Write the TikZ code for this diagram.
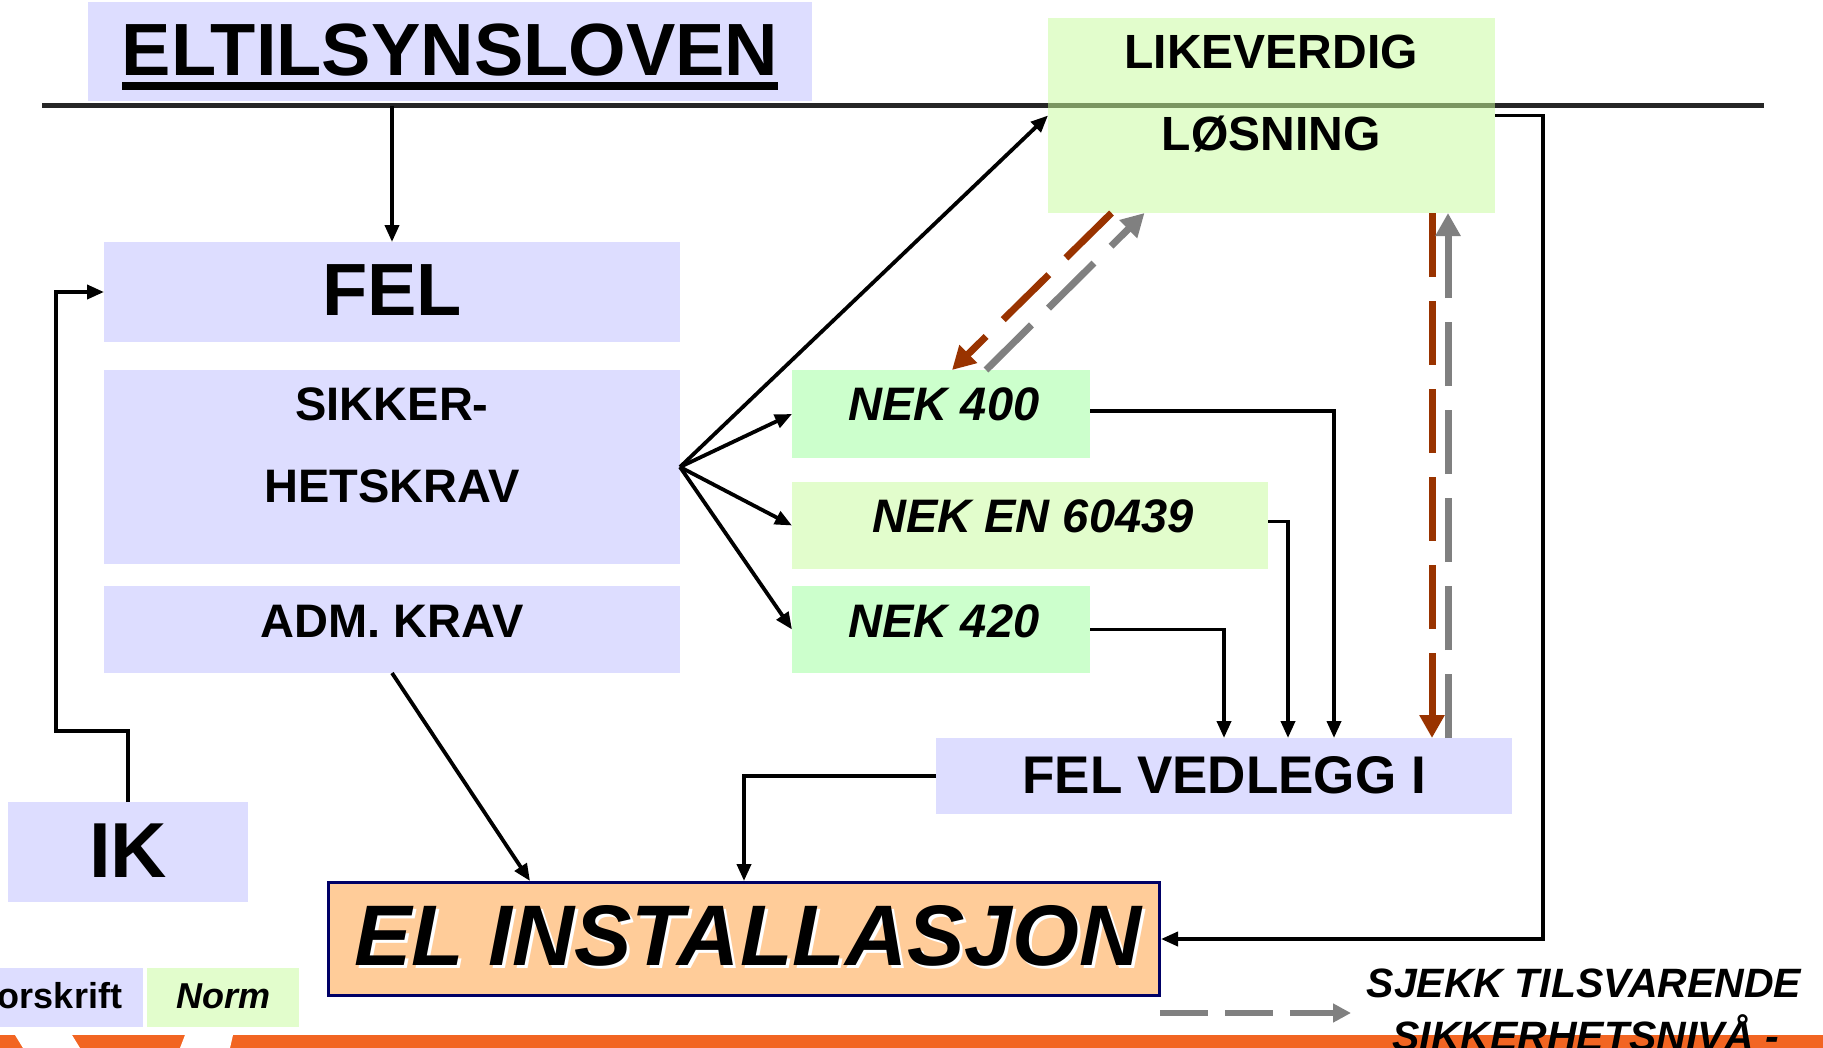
\documentclass[tikz,border=0pt]{standalone}
\usepackage{fontspec}
\setmainfont{Liberation Sans}
\usetikzlibrary{arrows.meta,calc}
\definecolor{lavc}{RGB}{221,221,255}
\definecolor{palegreen}{RGB}{226,253,204}
\definecolor{mintc}{RGB}{204,255,204}
\definecolor{peachc}{RGB}{255,204,153}
\definecolor{navyc}{RGB}{0,0,102}
\definecolor{brownc}{RGB}{153,51,0}
\definecolor{grayc}{RGB}{128,128,128}
\definecolor{bandc}{RGB}{242,101,34}
\definecolor{linec}{RGB}{38,38,38}
\definecolor{lineover}{RGB}{122,150,96}
\newcommand\fsz[1]{\fontsize{#1}{#1}\selectfont}
\begin{document}
\begin{tikzpicture}[x=1pt,y=-1pt,
  box/.style={rectangle,inner sep=0pt,outer sep=0pt,draw=none},
  lavbox/.style={box,fill=lavc},
  palebox/.style={box,fill=palegreen},
  mintbox/.style={box,fill=mintc},
  lbl/.style={inner sep=0pt,outer sep=0pt,anchor=base},
  bf/.style={font=\bfseries\fsz{#1}},
  bfi/.style={font=\bfseries\itshape\fsz{#1}},
  arr/.style={draw=black,line width=3.8pt,-{Triangle[length=17pt,width=14pt]}},
  brownd/.style={draw=brownc,line width=7pt,dash pattern=on 64pt off 24pt,-{Triangle[length=23pt,width=24pt]}},
  grayd/.style={draw=grayc,line width=7pt,dash pattern=on 64pt off 24pt,-{Triangle[length=23pt,width=24pt]}}
]
\useasboundingbox (0,0) rectangle (1823,1047);
\clip (0,0) rectangle (1823,1047);
\fill[white] (0,0) rectangle (1823,1047);

% bottom band
\fill[bandc] (0,1035) rectangle (1823,1048);
\fill[white] (15,1035) -- (72,1035) -- (80,1048) -- (23,1048) -- cycle;
\fill[white] (185,1035) -- (233,1035) -- (230,1048) -- (180,1048) -- cycle;

% law box and rule
\node[lavbox,minimum width=724pt,minimum height=99pt] (elt) at (450,51.5) {};
\coordinate (hl1) at (42,105.5);
\coordinate (hl2) at (1764,105.5);
\draw[linec,line width=4.5pt] (hl1) -- (hl2);
\node[bf=74,lbl] (elttxt) at (450,75) {ELTILSYNSLOVEN};
\fill ([yshift=-7pt]elttxt.base west) rectangle ([yshift=-15pt]elttxt.base east);

% likeverdig
\node[palebox,minimum width=447pt,minimum height=195pt] (likev) at (1271.5,115.5) {};
\draw[lineover,line width=4.5pt] (hl1 -| likev.west) -- (hl1 -| likev.east);
\node[bf=48,lbl] (likev1) at (1271,68) {LIKEVERDIG};
\node[bf=48,lbl] (likev2) at (1271,150) {LØSNING};

% FEL column
\node[lavbox,minimum width=576pt,minimum height=100pt] (fel) at (392,292) {};
\node[bf=74,lbl] (feltxt) at (392,315) {FEL};
\node[lavbox,minimum width=576pt,minimum height=194pt] (sik) at (392,467) {};
\node[bf=47,lbl] (sik1) at (392,420) {SIKKER-};
\node[bf=47,lbl] (sik2) at (392,502) {HETSKRAV};
\node[lavbox,minimum width=576pt,minimum height=87pt] (adm) at (392,629.5) {};
\node[bf=47,lbl] (admtxt) at (392,637) {ADM. KRAV};

% IK
\node[lavbox,minimum width=240pt,minimum height=100pt] (ik) at (128,852) {};
\node[bf=78,lbl] (iktxt) at (128,877) {IK};

% legend
\node[lavbox,minimum width=163pt,minimum height=59pt] (fors) at (61.5,997.5) {};
\node[bf=36,lbl,anchor=base east] (forstxt) at (122,1008) {Forskrift};
\node[palebox,minimum width=152pt,minimum height=59pt] (norm) at (223,997.5) {};
\node[bfi=36,lbl] (normtxt) at (224,1008) {Norm};

% NEK boxes
\node[mintbox,minimum width=298pt,minimum height=88pt] (nek400) at (941,414) {};
\node[bfi=47,lbl] (nek400txt) at (944,420) {NEK 400};
\node[palebox,minimum width=476pt,minimum height=87pt] (nekEN) at (1030,525.5) {};
\node[bfi=47,lbl] (nekENtxt) at (1033,532) {NEK EN 60439};
\node[mintbox,minimum width=298pt,minimum height=87pt] (nek420) at (941,629.5) {};
\node[bfi=47,lbl] (nek420txt) at (944,637) {NEK 420};

% FEL vedlegg
\node[lavbox,minimum width=576pt,minimum height=76pt] (vedl) at (1224,776) {};
\node[bf=53,lbl] (vedltxt) at (1224,793) {FEL VEDLEGG I};

% EL installasjon
\node[rectangle,draw=navyc,line width=3pt,fill=peachc,inner sep=0pt,outer sep=1.5pt,
      minimum width=831pt,minimum height=113pt] (elinst) at (744,939) {};
\node[bfi=86,lbl,text=white] (elshadow) at (751,968) {EL INSTALLASJON};
\node[bfi=86,lbl] (elinsttxt) at (748,965) {EL INSTALLASJON};

% connectors
\coordinate (lawtap) at (392,105.5);
\draw[arr] (lawtap) -- (fel.north);
\draw[arr] (ik.north) -- (128,731) -- (56,731) -- (56,292) -- (fel.west);
\draw[arr] (sik.east) -- (likev.west);
\draw[arr] (sik.east) -- (nek400.west);
\draw[arr] (sik.east) -- (nekEN.west);
\draw[arr] (sik.east) -- (nek420.west);
\draw[arr] (adm.south) -- ([xshift=-214pt]elinst.north);
\draw[arr] (vedl.west) -| (elinst.north);
\draw[arr] ([yshift=3pt]nek400.east) -| ([xshift=110pt]vedl.north);
\draw[arr] ([yshift=4pt]nekEN.east) -| ([xshift=64pt]vedl.north);
\draw[arr] (nek420.east) -| (vedl.north);
\draw[arr] (likev.east) -- ++(48,0) |- (elinst.east);

% dashed check arrows
\draw[brownd] ([xshift=-160pt]likev.south) -- ([xshift=11pt]nek400.north);
\draw[grayd] ([xshift=45pt]nek400.north) -- ([xshift=-127pt]likev.south);
\draw[brownd] ([xshift=160.5pt]likev.south) -- ([xshift=208pt]vedl.north);
\draw[grayd] ([xshift=224pt]vedl.north) -- ([xshift=176.5pt]likev.south);

% legend arrow and text
\coordinate (lg1) at (1160,1013);
\coordinate (lg2) at (1351,1013);
\draw[draw=grayc,line width=6.5pt,dash pattern=on 48pt off 17pt,-{Triangle[length=18pt,width=18pt]}] (lg1) -- (lg2);
\node[bfi=41,lbl] (sj1) at (1584,997) {SJEKK TILSVARENDE};
\node[bfi=41,lbl] (sj2) at (1586,1050) {SIKKERHETSNIVÅ -};
\end{tikzpicture}
\end{document}
